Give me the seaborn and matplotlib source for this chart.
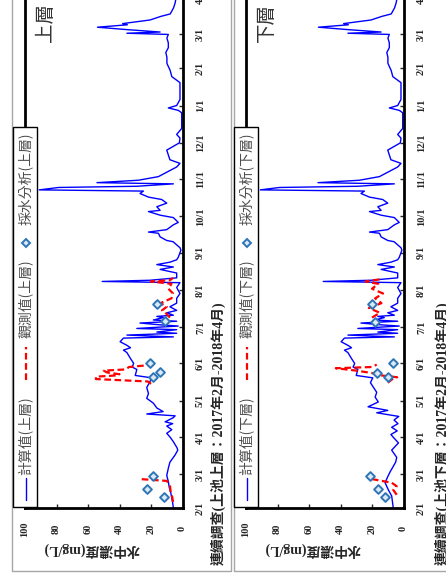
import pandas as pd
import matplotlib
matplotlib.use("Agg")
import matplotlib.pyplot as plt
from matplotlib.lines import Line2D
from matplotlib.patches import Rectangle
import seaborn as sns

# --- data (days counted from 2017-02-01) ---
start = pd.Timestamp("2017-02-01")
end = pd.Timestamp("2018-04-01")

upper_day = [0, 4, 8, 13, 17, 22, 27, 33, 38, 44, 48, 50, 55, 59, 62, 65, 68, 70, 71.5, 75,
             76.5, 78, 80, 83, 87, 91, 95, 100, 104, 108, 110, 115, 117, 120, 124, 129, 131,
             133, 135, 138, 141, 142, 143.5, 145, 146, 148, 149, 151, 152, 153.5, 155, 156,
             158, 159, 160, 162, 164, 167, 170, 174, 178, 183, 187, 188, 189, 191, 195, 198,
             200, 202, 204, 206, 208, 214, 216, 221, 222, 225, 228, 229, 231, 235, 237, 241,
             243, 246, 247, 250, 253, 256, 258, 261, 263, 264, 266, 267, 269, 270, 272, 275,
             283, 286, 289, 293, 297, 300, 303, 307, 310, 315, 328, 330, 332, 334, 339, 347,
             353, 355, 358, 363, 369, 374, 378, 382, 386, 390, 393, 394, 395, 397, 399, 401,
             402, 405, 408, 410, 415, 419, 424]
upper_val = [5.8, 6.2, 6.8, 7.5, 8.4, 9.0, 10.0, 9.0, 8.0, 4.7, 3.0, 3.5, 5.8, 8.0, 10.0, 6.8,
             10.0, 6.2, 11.0, 5.8, 4.7, 22.7, 12.3, 16.3, 18.5, 22.7, 21.6, 22.7, 21.0, 19.5,
             30.0, 29.0, 32.0, 31.0, 33.0, 35.3, 37.5, 33.0, 35.3, 39.6, 37.5, 5.8, 35.3, 3.7,
             16.3, 3.7, 29.0, 2.7, 14.2, 27.0, 3.7, 18.5, 12.2, 16.3, 5.8, 10.0, 3.7, 8.0, 3.7,
             3.7, 1.6, 3.7, 1.6, 51.0, 20.6, 3.7, 3.7, 14.2, 5.8, 16.3, 8.0, 3.7, 2.7, 1.0, 1.6,
             6.0, 10.0, 14.2, 15.3, 21.6, 10.0, 5.8, 2.7, 5.8, 14.2, 21.6, 14.2, 16.3, 10.0,
             13.2, 21.6, 27.0, 24.8, 91.0, 78.6, 29.0, 5.8, 54.3, 28.0, 15.3, 3.7, 1.6, 8.0,
             9.0, 10.0, 6.0, 2.0, 1.6, 3.7, 0.5, 0.5, 2.7, 9.0, 3.7, 1.6, 1.6, 1.6, 3.7, 6.8,
             7.8, 9.9, 9.9, 10.6, 9.0, 9.0, 9.9, 9.0, 35.3, 14.2, 35.3, 54.0, 35.0, 38.0, 20.6,
             13.7, 7.8, 5.7, 4.7, 4.0]

# lower layer differs from the upper one only before mid May
lower_head_day = [0, 5, 10, 15, 21, 26, 30, 38, 42, 48, 54, 58, 61, 64, 67, 70, 73, 76, 79,
                  81, 84, 88, 92, 96, 100]
lower_head_val = [6.5, 7.0, 7.5, 9.6, 11.7, 10.0, 8.5, 5.0, 4.3, 7.5, 3.2, 6.0, 8.0, 4.0, 7.5,
                  3.5, 6.0, 3.0, 17.0, 10.0, 22.5, 16.0, 18.0, 17.0, 19.0]
cut = upper_day.index(104)
lower_day = lower_head_day + upper_day[cut:]
lower_val = lower_head_val + upper_val[cut:]

upper_obs = [
    ([5, 9, 13, 19, 22.5, 24], [6, 6.5, 7.5, 8, 10, 27]),
    ([103, 105, 107, 109, 110, 111, 112.5, 114, 115, 117, 118.5],
     [20, 22, 55, 55, 42, 40, 48, 50, 36, 34, 22]),
    ([158, 161, 164, 167, 170, 174, 178, 182, 186, 188, 189, 191],
     [8, 10, 13, 10, 14, 7, 6, 9, 7, 20, 8, 6]),
]
lower_obs = [
    ([11, 15, 18, 21, 24], [4.3, 6.5, 4.3, 7.5, 20]),
    ([104, 107, 108.5, 110, 112, 114, 116, 117, 119], [10, 7, 4, 14, 20, 30, 43, 20, 17]),
    ([158, 162, 166, 170, 174, 178, 182, 186, 188, 190],
     [20, 15, 22, 14, 18, 13, 20, 16, 24, 14]),
]

upper_samp_day = [9.5, 15.5, 26.5, 108.5, 112.5, 120.5, 155, 169]
upper_samp_val = [12, 22.7, 18.5, 18.5, 14.5, 20.6, 10.8, 16]
lower_samp_day = [9.5, 15.5, 26.8, 108.5, 112, 120.5, 154.6, 169]
lower_samp_val = [11.7, 16, 21, 10, 17, 6.5, 18, 19.7]

val_ticks = [0, 20, 40, 60, 80, 100]
month_labels = ["2/1", "3/1", "4/1", "5/1", "6/1", "7/1", "8/1", "9/1", "10/1", "11/1",
                "12/1", "1/1", "2/1", "3/1", "4/1"]


def to_dates(days):
    return start + pd.to_timedelta(days, unit="D")


# --- figure (drawn turned a quarter turn, like the source) ---
W, H = 446, 588
sns.set_style("white")
plt.rcParams["font.family"] = ["Liberation Serif", "Noto Sans CJK TC"]

fig = plt.figure(figsize=(W / 100, H / 100), dpi=100)


def fx(px):
    return px / W


def fy(py):
    return 1 - py / H


px_per_day = 1.205
axis_h = px_per_day * (end - start).days
base_y = 508
blue = "#0000ff"
red = "#ff0000"
gray = "#a6a6a6"

panels = [
    dict(x0=25, layer="上層", day=upper_day, val=upper_val, obs=upper_obs,
         sday=upper_samp_day, sval=upper_samp_val, title_dx=193, frame=(12, 231)),
    dict(x0=246, layer="下層", day=lower_day, val=lower_val, obs=lower_obs,
         sday=lower_samp_day, sval=lower_samp_val, title_dx=196, frame=(233.5, 460)),
]

for p in panels:
    x0 = p["x0"]
    ax = fig.add_axes([fx(x0), fy(base_y), 157.5 / W, axis_h / H])

    df = pd.DataFrame({"date": to_dates(p["day"]), "val": p["val"]})
    sns.lineplot(data=df, x="val", y="date", orient="y", sort=False, estimator=None,
                 color=blue, lw=1, ax=ax)
    for d, v in p["obs"]:
        sns.lineplot(x=v, y=to_dates(d), orient="y", sort=False, estimator=None,
                     color=red, lw=1.6, ls=(0, (3, 1.6)), ax=ax)
    sns.scatterplot(x=p["sval"], y=to_dates(p["sday"]), marker="D", s=20,
                    color="#dbe8f5", edgecolor="#2e75b6", linewidth=1.4, ax=ax, zorder=4)

    ax.set_xlim(100, 0)
    ax.set_ylim(start, end)
    ax.set_xticks(val_ticks)
    ax.set_xticklabels([str(t) for t in val_ticks], rotation=90, ha="center", va="center",
                       fontweight="bold", fontsize=7.5)
    ax.yaxis.tick_right()
    ax.set_yticks(pd.date_range(start, end, freq="MS"))
    ax.set_yticklabels(month_labels, rotation=90, ha="center", va="center",
                       fontweight="bold", fontsize=7.5)
    ax.tick_params(axis="x", direction="in", length=3, width=1, pad=15, bottom=True)
    ax.tick_params(axis="y", direction="in", length=3, width=1, pad=13, right=True,
                   left=False)
    ax.set_xlabel("")
    ax.set_ylabel("")
    for side in ["left", "right", "bottom"]:
        ax.spines[side].set_color("black")
        ax.spines[side].set_linewidth(2)
    ax.spines["top"].set_visible(False)

    # outer chart frame
    fl, fr = p["frame"]
    fig.add_artist(Line2D([fx(fl), fx(fl), fx(fr), fx(fr)], [fy(-5), fy(571), fy(571), fy(-5)],
                          color=gray, lw=1))

    # legend box, written by hand since it has to stand turned
    fig.add_artist(Rectangle((fx(x0 - 12), fy(507)), 24 / W, (507 - 127) / H,
                             facecolor="white", edgecolor="black", lw=1, zorder=5))
    cx = fx(x0 + 0.5)
    fig.add_artist(Line2D([cx, cx], [fy(500), fy(478)], color=blue, lw=1, zorder=6))
    fig.add_artist(Line2D([cx, cx], [fy(380), fy(347)], color=red, lw=1.6,
                          ls=(0, (3, 1.6)), zorder=6))
    fig.add_artist(Line2D([cx], [fy(243)], marker="D", ms=4.5, mfc="#dbe8f5",
                          mec="#2e75b6", mew=1.4, ls="none", zorder=6))
    leg_text = [("計算值(" + p["layer"] + ")", 475), ("觀測值(" + p["layer"] + ")", 338),
                ("採水分析(" + p["layer"] + ")", 225)]
    for txt, yb in leg_text:
        fig.text(cx, fy(yb), txt, rotation=90, ha="center", va="bottom", fontsize=10,
                 color="#4d4d4d", family=["Noto Sans CJK TC"], zorder=7)

    fig.text(fx(x0 + 20), fy(22), p["layer"], rotation=90, ha="center", va="center",
             fontsize=14, color="#333333", family=["Noto Sans CJK TC"])
    fig.text(fx(x0 + p["title_dx"]), fy(565),
             "連續調查(上池" + p["layer"] + "：2017年2月-2018年4月)",
             rotation=90, ha="center", va="bottom", fontsize=10, fontweight="bold")
    fig.text(fx(x0 + 66), fy(550), "水中濃度(mg/L)", rotation=180, ha="center",
             va="center", fontsize=10, fontweight="bold")

fig.savefig("out.png", dpi=100)
